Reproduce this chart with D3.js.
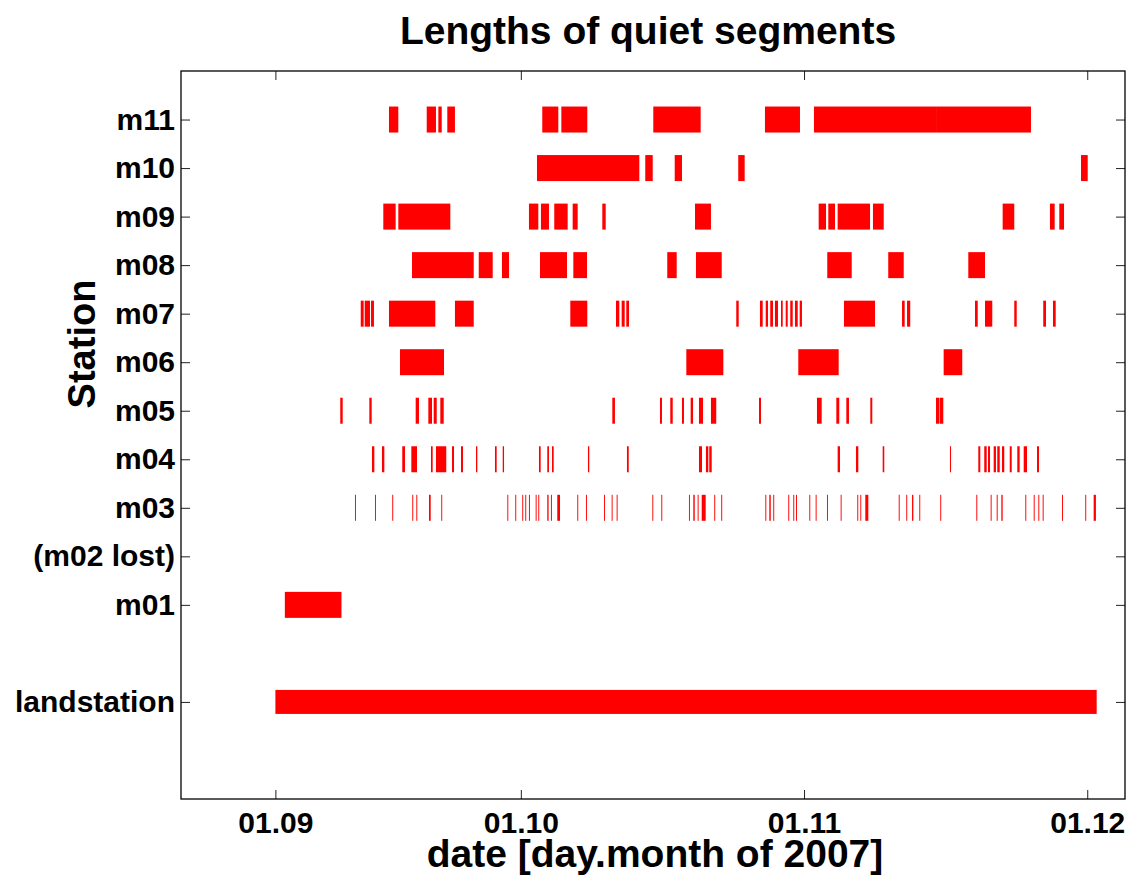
<!DOCTYPE html>
<html>
<head>
<meta charset="utf-8">
<script src="https://cdn.jsdelivr.net/npm/d3@7"></script>
<style>
  html, body { margin: 0; padding: 0; background: #fff; }
  text { font-family: "Liberation Sans", Arial, Helvetica, sans-serif; font-weight: bold; }
</style>
</head>
<body>
<svg id="chart" width="1131" height="875"></svg>
<script>
// ---------- data (x in days counted from the "01.09" tick) ----------
const stationNames = ["landstation", "m01", "(m02 lost)", "m03", "m04", "m05", "m06", "m07", "m08", "m09", "m10", "m11"];
const stationRows  = [1, 3, 4, 5, 6, 7, 8, 9, 10, 11, 12, 13];

const xTickValues = [0, 26, 56, 86];
const xTickLabels = ["01.09", "01.10", "01.11", "01.12"];

const segLandstation = [[0.0, 87.0]];
const segM01 = [[1.0, 7.0]];
const segM02 = [];
const segM03 = [
  [8.43, 8.53], [10.55, 10.65], [12.38, 12.48], [14.50, 14.60], [14.93, 15.03], [16.27, 16.45],
  [17.57, 17.67], [24.57, 24.67], [25.41, 25.51], [26.15, 26.25], [26.47, 26.57], [26.86, 26.96],
  [27.57, 27.67], [27.85, 27.95], [28.80, 28.94], [29.19, 29.29], [29.86, 30.15], [31.98, 32.08],
  [32.90, 33.00], [34.81, 34.91], [35.62, 35.72], [36.15, 36.25], [39.93, 40.03], [40.88, 40.98],
  [43.81, 43.91], [44.27, 44.42], [44.73, 44.83], [45.16, 45.58], [46.49, 46.59], [47.23, 47.33],
  [51.90, 52.00], [52.32, 52.47], [52.74, 52.84], [54.33, 54.43], [54.86, 54.96], [55.15, 55.25],
  [56.56, 56.66], [57.23, 57.33], [58.43, 58.53], [59.88, 59.98], [61.64, 61.74], [61.96, 62.06],
  [62.49, 62.81], [66.03, 66.13], [66.83, 66.93], [67.44, 67.58], [68.21, 68.31], [70.43, 70.53],
  [74.25, 74.35], [75.77, 75.87], [76.41, 76.51], [76.90, 77.04], [79.44, 79.54], [80.33, 80.43],
  [80.82, 80.92], [81.28, 81.38], [83.33, 83.43], [85.79, 85.89], [86.68, 86.92]
];
const segM04 = [
  [10.23, 10.48], [11.29, 11.54], [13.44, 13.73], [14.40, 15.00], [16.48, 16.66], [17.01, 18.10],
  [18.71, 18.92], [19.66, 19.87], [21.25, 21.39], [23.26, 23.44], [24.08, 24.22], [27.92, 28.10],
  [28.80, 28.98], [29.30, 29.48], [33.11, 33.25], [37.24, 37.43], [44.87, 45.19], [45.61, 45.86],
  [45.96, 46.22], [59.56, 59.81], [61.50, 61.75], [64.33, 64.50], [71.46, 71.57], [74.46, 74.67],
  [75.09, 75.35], [75.49, 75.70], [76.09, 76.33], [76.47, 76.73], [76.97, 77.21], [77.79, 78.00],
  [78.59, 78.84], [79.27, 79.62], [80.68, 80.89]
];
const segM05 = [
  [6.87, 7.13], [9.95, 10.20], [14.86, 15.21], [16.20, 16.59], [16.77, 17.09], [17.47, 17.83],
  [35.69, 35.97], [40.74, 40.95], [41.83, 42.09], [43.07, 43.28], [43.99, 44.24], [44.87, 45.30],
  [46.14, 46.70], [51.23, 51.44], [57.37, 57.87], [59.42, 59.73], [60.48, 60.76], [63.02, 63.23],
  [69.98, 70.35], [70.40, 70.75]
];
const segM06 = [[13.20, 17.86], [43.53, 47.45], [55.39, 59.67], [70.79, 72.76]];
const segM07 = [
  [9.04, 9.35], [9.46, 10.02], [10.13, 10.44], [12.03, 16.94], [19.02, 21.01], [31.24, 33.04],
  [36.08, 36.43], [36.68, 37.00], [37.17, 37.46], [48.82, 49.08], [51.33, 51.62], [51.94, 52.18],
  [52.42, 52.71], [52.92, 53.24], [53.56, 53.74], [54.06, 54.27], [54.54, 54.80], [55.04, 55.33],
  [55.54, 55.78], [60.23, 63.52], [66.38, 66.66], [66.91, 67.25], [74.11, 74.40], [75.17, 75.94],
  [78.27, 78.53], [81.34, 81.63], [82.37, 82.66]
];
const segM08 = [
  [14.47, 21.01], [21.54, 23.02], [24.00, 24.75], [28.03, 30.89], [31.56, 33.01], [41.51, 42.51],
  [44.55, 47.28], [58.46, 61.05], [64.92, 66.56], [73.40, 75.17]
];
const segM09 = [
  [11.43, 12.74], [13.02, 18.53], [26.86, 27.85], [28.13, 28.98], [29.54, 30.96], [31.49, 32.02],
  [34.63, 34.99], [44.45, 46.14], [57.55, 58.33], [58.57, 59.28], [59.56, 62.99], [63.30, 64.44],
  [77.04, 78.27], [82.05, 82.55], [83.04, 83.54]
];
const segM10 = [[27.71, 38.55], [39.18, 39.97], [42.30, 43.07], [49.03, 49.71], [85.34, 86.05]];
const segM11 = [
  [12.03, 13.02], [16.03, 17.01], [17.26, 17.62], [18.21, 19.02], [28.27, 29.97], [30.29, 33.04],
  [40.03, 45.05], [51.86, 55.57], [57.05, 70.08], [70.08, 80.04]
];

const segmentsByStation = [segLandstation, segM01, segM02, segM03, segM04, segM05, segM06,
                           segM07, segM08, segM09, segM10, segM11];

// ---------- layout ----------
const svg = d3.select("#chart");
const plotLeft = 181, plotRight = 1125, plotTop = 71, plotBottom = 799;

const x = d3.scaleLinear().domain([-10, 90]).range([plotLeft, plotRight]);
const y = d3.scaleLinear().domain([-1, 14]).range([plotBottom, plotTop]);

const bars = [];
segmentsByStation.forEach((segs, i) => {
  segs.forEach(s => bars.push({ row: stationRows[i], name: stationNames[i], x0: s[0], x1: s[1] }));
});

svg.append("g")
  .selectAll("rect")
  .data(bars)
  .join("rect")
  .attr("x", d => x(d.x0))
  .attr("width", d => Math.max(0.6, x(d.x1) - x(d.x0)))
  .attr("y", d => y(d.row) - (d.name === "landstation" ? 12 : 13))
  .attr("height", d => d.name === "landstation" ? 24 : 26)
  .attr("fill", "#ff0000");

// axes
const tickLen = 9;
const fmtX = d => xTickLabels[xTickValues.indexOf(d)];
const fmtY = d => stationNames[stationRows.indexOf(d)];

const gx = svg.append("g").attr("transform", `translate(0,${plotBottom})`)
  .call(d3.axisBottom(x).tickValues(xTickValues).tickFormat(fmtX).tickSizeInner(-tickLen).tickSizeOuter(0).tickPadding(13));
const gxt = svg.append("g").attr("transform", `translate(0,${plotTop})`)
  .call(d3.axisTop(x).tickValues(xTickValues).tickFormat("").tickSizeInner(-tickLen).tickSizeOuter(0));
const gy = svg.append("g").attr("transform", `translate(${plotLeft},0)`)
  .call(d3.axisLeft(y).tickValues(stationRows).tickFormat(fmtY).tickSizeInner(-tickLen).tickSizeOuter(0).tickPadding(6));
const gyr = svg.append("g").attr("transform", `translate(${plotRight},0)`)
  .call(d3.axisRight(y).tickValues(stationRows).tickFormat("").tickSizeInner(-tickLen).tickSizeOuter(0));

[gx, gxt, gy, gyr].forEach(g => {
  g.select(".domain").remove();
  g.selectAll(".tick line").attr("stroke", "#222").attr("stroke-width", 1);
  g.selectAll("text").attr("fill", "#000").style("font-size", "30px")
    .style("font-family", "'Liberation Sans', Arial, sans-serif").style("font-weight", "bold");
});

svg.append("rect")
  .attr("x", plotLeft).attr("y", plotTop)
  .attr("width", plotRight - plotLeft).attr("height", plotBottom - plotTop)
  .attr("fill", "none").attr("stroke", "#000").attr("stroke-width", 1.3);

// titles
svg.append("text")
  .attr("x", 648).attr("y", 44)
  .attr("text-anchor", "middle")
  .style("font-size", "39px")
  .text("Lengths of quiet segments");

svg.append("text")
  .attr("x", 655).attr("y", 867)
  .attr("text-anchor", "middle")
  .style("font-size", "39px")
  .text("date [day.month of 2007]");

svg.append("text")
  .attr("transform", "translate(95,344) rotate(-90)")
  .attr("text-anchor", "middle")
  .style("font-size", "38px")
  .text("Station");
</script>
</body>
</html>
